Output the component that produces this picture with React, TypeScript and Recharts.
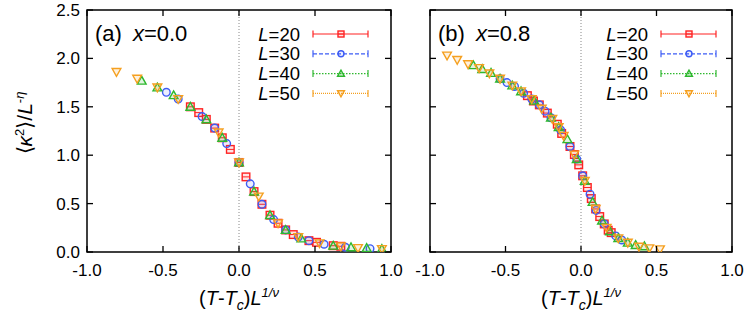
import React from 'react';
import { ScatterChart, Scatter, XAxis, YAxis, ReferenceLine, ReferenceArea } from 'recharts';

// tick labels
const xTicks = [-1, -0.5, 0, 0.5, 1];
const yTicks = [0, 0.5, 1, 1.5, 2, 2.5];
const sizes = ['20', '30', '40', '50'];

// panel (a), x = 0.0
const a20: [number, number][] = [
    [-0.32, 1.5], [-0.265, 1.44], [-0.215, 1.37], [-0.16, 1.28], [-0.11, 1.18], [-0.057, 1.06],
    [0, 0.925], [0.046, 0.776], [0.099, 0.624], [0.151, 0.493], [0.204, 0.38], [0.257, 0.297],
    [0.307, 0.228], [0.357, 0.18], [0.46, 0.117], [0.51, 0.1], [0.62, 0.065], [0.67, 0.059],
];
const a30: [number, number][] = [
    [-0.478, 1.65], [-0.4, 1.58], [-0.243, 1.4], [-0.16, 1.28], [-0.081, 1.12], [0, 0.925],
    [0.074, 0.704], [0.151, 0.493], [0.228, 0.335], [0.307, 0.228], [0.39, 0.155], [0.46, 0.117],
    [0.56, 0.08], [0.7, 0.049], [0.862, 0.034],
];
const a40: [number, number][] = [
    [-0.64, 1.77], [-0.537, 1.7], [-0.43, 1.62], [-0.32, 1.5], [-0.215, 1.37], [-0.11, 1.18],
    [0, 0.925], [0.099, 0.624], [0.204, 0.38], [0.307, 0.228], [0.41, 0.14], [0.62, 0.065],
    [0.737, 0.049], [0.84, 0.041], [0.94, 0.031],
];
const a50: [number, number][] = [
    [-0.806, 1.86], [-0.67, 1.79], [-0.537, 1.7], [-0.4, 1.58], [-0.134, 1.235], [0, 0.925],
    [0.13, 0.573], [0.257, 0.297], [0.39, 0.155], [0.53, 0.09], [0.67, 0.059], [0.783, 0.041],
    [0.94, 0.031],
];

// panel (b), x = 0.8
const b20: [number, number][] = [
    [-0.355, 1.615], [-0.315, 1.56], [-0.276, 1.52], [-0.223, 1.435], [-0.157, 1.32], [-0.128, 1.225],
    [-0.073, 1.09], [-0.044, 1.007], [-0.015, 0.9], [0.011, 0.787], [0.042, 0.666], [0.068, 0.552],
    [0.097, 0.445], [0.124, 0.366], [0.154, 0.29], [0.18, 0.225], [0.2, 0.2],
];
const b30: [number, number][] = [
    [-0.536, 1.79], [-0.49, 1.75], [-0.44, 1.71], [-0.38, 1.64], [-0.326, 1.58], [-0.276, 1.52],
    [-0.238, 1.455], [-0.199, 1.387], [-0.135, 1.26], [-0.073, 1.09], [-0.028, 0.96], [0.011, 0.787],
    [0.06, 0.597], [0.1, 0.43], [0.154, 0.29], [0.23, 0.166], [0.27, 0.124],
];
const b40: [number, number][] = [
    [-0.713, 1.93], [-0.654, 1.89], [-0.596, 1.85], [-0.536, 1.79], [-0.455, 1.72], [-0.397, 1.66],
    [-0.31, 1.565], [-0.199, 1.387], [-0.148, 1.29], [-0.09, 1.165], [-0.028, 0.96], [0.025, 0.735],
    [0.077, 0.517], [0.139, 0.324], [0.192, 0.214], [0.247, 0.142], [0.31, 0.096], [0.362, 0.072],
    [0.42, 0.059],
];
const b50: [number, number][] = [
    [-0.887, 2.03], [-0.82, 1.985], [-0.748, 1.94], [-0.675, 1.9], [-0.607, 1.845], [-0.536, 1.79],
    [-0.455, 1.72], [-0.397, 1.66], [-0.326, 1.58], [-0.26, 1.48], [-0.19, 1.375], [-0.148, 1.29],
    [-0.115, 1.2], [-0.044, 1.007], [0.025, 0.735], [0.097, 0.445], [0.17, 0.25], [0.247, 0.142],
    [0.31, 0.096], [0.384, 0.055], [0.452, 0.038], [0.523, 0.028],
];

const colors = ['#f22', '#3d5cf5', '#2eb82e', '#f5a020'];
const dashes = ['', '4 2', '1.5 1.5', '1 1'];
const FONT = '"Liberation Sans", Arial, Helvetica, sans-serif';

const toPoints = (arr: [number, number][]) => arr.map(([x, y]) => ({ x, y }));

const Marker = ({ kind, cx, cy, color, h = 3.8 }: { kind: number; cx: number; cy: number; color: string; h?: number }) => {
    const sw = 1.4;
    if (kind === 0) {
        return (
            <g>
                <rect x={cx - h} y={cy - h} width={2 * h} height={2 * h} fill={color} fillOpacity={0.12} stroke={color} strokeWidth={sw} />
                <line x1={cx - h} x2={cx + h} y1={cy} y2={cy} stroke={color} strokeWidth={1} />
            </g>
        );
    }
    if (kind === 1) return <circle cx={cx} cy={cy} r={h} fill={color} fillOpacity={0.1} stroke={color} strokeWidth={sw} />;
    if (kind === 2) {
        return (
            <polygon
                points={`${cx},${cy - h * 1.15} ${cx - h * 1.15},${cy + h * 0.9} ${cx + h * 1.15},${cy + h * 0.9}`}
                fill={color} fillOpacity={0.15} stroke={color} strokeWidth={sw}
            />
        );
    }
    return (
        <polygon
            points={`${cx},${cy + h * 1.15} ${cx - h * 1.15},${cy - h * 0.9} ${cx + h * 1.15},${cy - h * 0.9}`}
            fill={color} fillOpacity={0.15} stroke={color} strokeWidth={sw}
        />
    );
};

const PLOT_TOP = 10;
const PLOT_BOTTOM = 252;

interface PanelProps {
    left: number;
    width: number;
    plotLeft: number;
    plotRight: number;
    yLabels: boolean;
    series: [number, number][][];
    tag: string;
    xval: string;
    legendX: number;
}

const Panel: React.FC<PanelProps> = ({ left, width, plotLeft, plotRight, yLabels, series, tag, xval, legendX }) => {
    const yAxisWidth = yLabels ? 50 : 10;

    const XTick = (props: any) => {
        const { x, payload } = props;
        return (
            <g>
                <line x1={x} x2={x} y1={PLOT_BOTTOM} y2={PLOT_BOTTOM - 6} stroke="#000" strokeWidth={1.3} />
                <line x1={x} x2={x} y1={PLOT_TOP} y2={PLOT_TOP + 6} stroke="#000" strokeWidth={1.3} />
                <text x={x} y={PLOT_BOTTOM + 24} textAnchor="middle" fontSize={17} fontFamily={FONT} fill="#000">
                    {payload.value.toFixed(1)}
                </text>
            </g>
        );
    };

    const YTick = (props: any) => {
        const { y, payload } = props;
        return (
            <g>
                <line x1={plotLeft} x2={plotLeft + 6} y1={y} y2={y} stroke="#000" strokeWidth={1.3} />
                <line x1={plotRight} x2={plotRight - 6} y1={y} y2={y} stroke="#000" strokeWidth={1.3} />
                {yLabels && (
                    <text x={plotLeft - 7} y={y + 6} textAnchor="end" fontSize={17} fontFamily={FONT} fill="#000">
                        {payload.value.toFixed(1)}
                    </text>
                )}
            </g>
        );
    };

    const center = (plotLeft + plotRight) / 2;

    return (
        <div style={{ position: 'absolute', left, top: 0, width, height: 328 }}>
            <ScatterChart
                width={width}
                height={328}
                margin={{ top: PLOT_TOP, right: width - plotRight, left: plotLeft - yAxisWidth, bottom: 46 }}
            >
                <XAxis
                    type="number"
                    dataKey="x"
                    domain={[-1, 1]}
                    ticks={xTicks}
                    interval={0}
                    allowDataOverflow
                    axisLine={false}
                    tickLine={false}
                    height={30}
                    tick={XTick}
                />
                <YAxis
                    type="number"
                    dataKey="y"
                    domain={[0, 2.5]}
                    ticks={yTicks}
                    interval={0}
                    allowDataOverflow
                    axisLine={false}
                    tickLine={false}
                    width={yAxisWidth}
                    tick={YTick}
                />
                <ReferenceLine x={0} stroke="#888" strokeDasharray="1 2" strokeWidth={1} />
                {series.map((s, i) => (
                    <Scatter
                        key={i}
                        data={toPoints(s)}
                        isAnimationActive={false}
                        shape={(p: any) => <Marker kind={i} cx={p.cx} cy={p.cy} color={colors[i]} />}
                    />
                ))}
                <ReferenceArea
                    x1={-1} x2={1} y1={0} y2={2.5}
                    fill="none" fillOpacity={0} stroke="#000" strokeWidth={1.5} ifOverflow="visible"
                />
            </ScatterChart>
            <svg
                width={width}
                height={328}
                style={{ position: 'absolute', left: 0, top: 0, pointerEvents: 'none' }}
                fontFamily={FONT}
            >
                <text x={plotLeft + 8} y={41} fontSize={22}>
                    {tag}
                    <tspan dx={11} fontStyle="italic">x</tspan>
                    <tspan>={xval}</tspan>
                </text>
                {sizes.map((L, i) => {
                    const y = 34 + i * 19.8;
                    const x0 = legendX + 56;
                    const x1 = legendX + 111;
                    const mx = legendX + 84;
                    return (
                        <g key={L}>
                            <text x={legendX + 43} y={y + 6.5} fontSize={18.5} textAnchor="end">
                                <tspan fontStyle="italic">L</tspan>={L}
                            </text>
                            <line x1={x0} x2={x1} y1={y} y2={y} stroke={colors[i]} strokeWidth={1.2}
                                strokeDasharray={dashes[i] || undefined} />
                            <line x1={x0} x2={x0} y1={y - 3.5} y2={y + 3.5} stroke={colors[i]} strokeWidth={1.2} />
                            <line x1={x1} x2={x1} y1={y - 3.5} y2={y + 3.5} stroke={colors[i]} strokeWidth={1.2} />
                            <Marker kind={i} cx={mx} cy={y} color={colors[i]} h={3} />
                        </g>
                    );
                })}
                <text x={center} y={305} fontSize={20} textAnchor="middle">
                    <tspan>(</tspan>
                    <tspan fontStyle="italic">T</tspan>
                    <tspan>-</tspan>
                    <tspan fontStyle="italic">T</tspan>
                    <tspan fontStyle="italic" fontSize={14} dy={5}>c</tspan>
                    <tspan dy={-5}>)</tspan>
                    <tspan fontStyle="italic">L</tspan>
                    <tspan fontStyle="italic" fontSize={13} dy={-8}>1/ν</tspan>
                </text>
            </svg>
        </div>
    );
};

const App: React.FC = () => {
    return (
        <div style={{ position: 'absolute', left: 0, top: 0, width: 747, height: 328, background: '#fff' }}>
            <Panel
                left={0} width={420} plotLeft={87} plotRight={391} yLabels
                series={[a20, a30, a40, a50]} tag="(a)" xval="0.0" legendX={257}
            />
            <Panel
                left={400} width={347} plotLeft={30} plotRight={332} yLabels={false}
                series={[b20, b30, b40, b50]} tag="(b)" xval="0.8" legendX={205}
            />
            <svg width={60} height={328} style={{ position: 'absolute', left: 0, top: 0 }} fontFamily={FONT}>
                <text transform="translate(32,123) rotate(-90)" textAnchor="middle" fontSize={21}>
                    <tspan>⟨</tspan>
                    <tspan fontStyle="italic">κ</tspan>
                    <tspan fontSize={13} dy={-8}>2</tspan>
                    <tspan dy={8}>⟩/</tspan>
                    <tspan fontStyle="italic">L</tspan>
                    <tspan fontSize={13} dy={-8}>-</tspan>
                    <tspan fontSize={13} fontStyle="italic">η</tspan>
                </text>
            </svg>
        </div>
    );
};

export default App;
